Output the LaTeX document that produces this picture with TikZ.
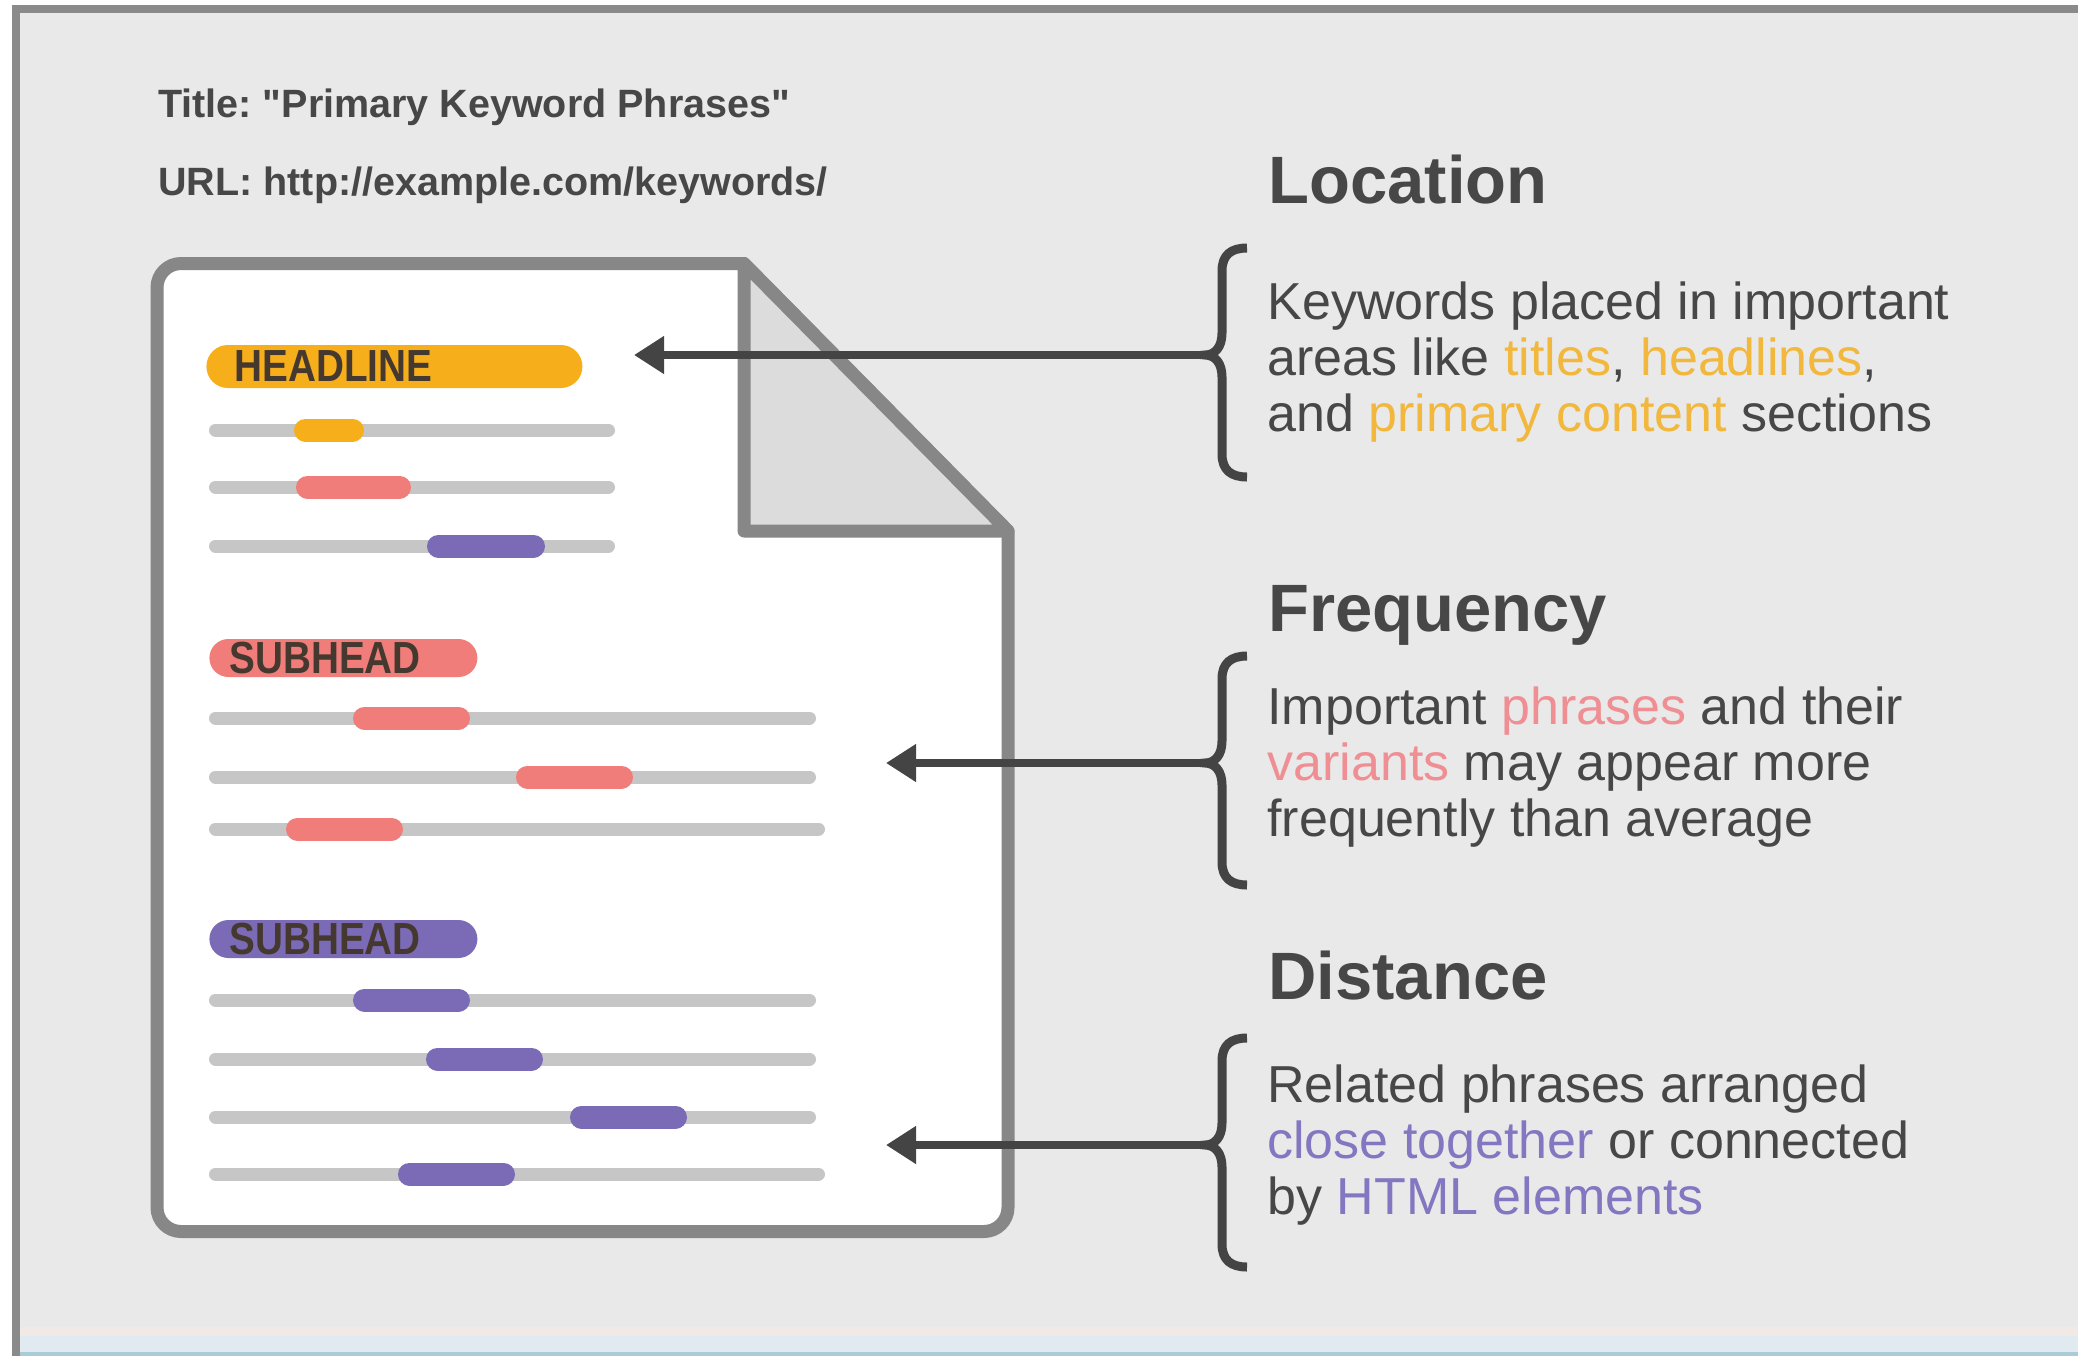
\documentclass[tikz,border=0pt]{standalone}
\usepackage{fontspec}
\setmainfont{Liberation Sans}
\newfontfamily\pillfont[FakeStretch=0.86]{Liberation Sans}
\usetikzlibrary{arrows.meta}
\frenchspacing

\definecolor{pagegray}{HTML}{E9E9E9}
\definecolor{framegray}{HTML}{8A8A8A}
\definecolor{docgray}{HTML}{878787}
\definecolor{foldgray}{HTML}{DCDCDC}
\definecolor{bargray}{HTML}{C6C6C6}
\definecolor{inkgray}{HTML}{474747}
\definecolor{pointergray}{HTML}{444444}
\definecolor{headorange}{HTML}{F6AE1A}
\definecolor{subred}{HTML}{F07D7A}
\definecolor{subviolet}{HTML}{7B6BB6}
\definecolor{wordgold}{HTML}{F2B83E}
\definecolor{wordpink}{HTML}{EF8E93}
\definecolor{wordviolet}{HTML}{8277C0}
\definecolor{pillink}{HTML}{45392F}
\definecolor{stripwarm}{HTML}{F1E9E5}
\definecolor{stripcool}{HTML}{E1EAF1}
\definecolor{stripedge}{HTML}{A9CCD6}

\tikzset{
  docline/.style={draw=docgray, fill=white, line width=6.5pt, line join=round},
  textbar/.style={bargray, line width=6.5pt, line cap=round},
  markbar/.style={line width=11.5pt, line cap=round},
  pill/.style={anchor=west, inner xsep=#1, inner ysep=0pt, align=left, text=pillink,
    font=\pillfont\bfseries\fontsize{22.5}{22.5}\selectfont},
  metatext/.style={anchor=base west, inner sep=0pt, text=inkgray,
    font=\bfseries\fontsize{19.75}{24}\selectfont},
  headtext/.style={anchor=base west, inner sep=0pt, text=inkgray,
    font=\bfseries\fontsize{33.5}{36}\selectfont},
  bodytext/.style={anchor=north west, inner sep=0pt, align=left, text=inkgray,
    font=\fontsize{26}{28}\selectfont},
  brace/.style={pointergray, line width=4.5pt},
  pointer/.style={pointergray, line width=3.75pt, -{Triangle[length=15pt,width=18pt]}}
}

\begin{document}
\begin{tikzpicture}[x=0.5pt, y=-0.5pt]
  \useasboundingbox (0,0) rectangle (2078,1356);
  % frame
  \fill[white] (0,0) rectangle (2078,1356);
  \fill[pagegray] (20,13) rectangle (2078,1327);
  \fill[framegray] (12,5) rectangle (2078,13);
  \fill[framegray] (12,5) rectangle (20,1356);
  \fill[stripwarm] (20,1327) rectangle (2078,1336);
  \fill[stripcool] (20,1336) rectangle (2078,1352);
  \fill[stripedge] (20,1352) rectangle (2078,1356);

  % page meta
  \node[metatext] (pagetitle) at (158,117)
    {Title: \textquotedbl Primary Keyword Phrases\textquotedbl};
  \node[metatext] (pageurl) at (158,195) {URL: http://example.com/keywords/};

  % document
  \filldraw[docline] (181,263.5) -- (744,263.5) -- (1008,531) -- (1008,1207.5)
    .. controls (1008,1220.75) and (997.25,1231.5) .. (984,1231.5) -- (181,1231.5)
    .. controls (167.75,1231.5) and (157,1220.75) .. (157,1207.5) -- (157,287.5)
    .. controls (157,274.25) and (167.75,263.5) .. (181,263.5) -- cycle;
  \filldraw[docline, fill=foldgray] (744,263.5) -- (744,531) -- (1008,531) -- cycle;

  % headline block
  \node[pill=14pt, fill=headorange, text width=160pt, minimum height=21.5pt,
    rounded corners=10.75pt] (headline) at (206,366.5) {HEADLINE};
  \foreach \y in {430,487,546}
    \draw[textbar] (215.5,\y) -- (608.5,\y);
  \foreach \y/\xa/\xb/\c in {430/305.5/352.5/headorange, 487/307.5/399.5/subred,
      546/438.5/533.5/subviolet}
    \draw[markbar, \c] (\xa,\y) -- (\xb,\y);

  % red subhead block
  \node[pill=10pt, fill=subred, text width=114pt, minimum height=19pt,
    rounded corners=9.5pt] (subheadA) at (209,658) {SUBHEAD};
  \foreach \y/\xb in {718/809.5, 777/809.5, 829/818.5}
    \draw[textbar] (215.5,\y) -- (\xb,\y);
  \foreach \y/\xa/\xb in {718/364.5/458.5, 777/527.5/621.5, 829/297.5/391.5}
    \draw[markbar, subred] (\xa,\y) -- (\xb,\y);

  % violet subhead block
  \node[pill=10pt, fill=subviolet, text width=114pt, minimum height=19pt,
    rounded corners=9.5pt] (subheadB) at (209,939) {SUBHEAD};
  \foreach \y/\xb in {1000/809.5, 1059/809.5, 1117/809.5, 1174/818.5}
    \draw[textbar] (215.5,\y) -- (\xb,\y);
  \foreach \y/\xa/\xb in {1000/364.5/458.5, 1059/437.5/531.5, 1117/581.5/675.5,
      1174/409.5/503.5}
    \draw[markbar, subviolet] (\xa,\y) -- (\xb,\y);

  % notes on the right
  \node[headtext] (location) at (1268,203) {Location};
  \node[bodytext] (locnote) at (1267,281) {Keywords placed in important\\
    areas like \textcolor{wordgold}{titles}, \textcolor{wordgold}{headlines},\\
    and \textcolor{wordgold}{primary content} sections};
  \node[headtext] (frequency) at (1268,631) {Frequency};
  \node[bodytext] (freqnote) at (1267,686) {Important \textcolor{wordpink}{phrases} and their\\
    \textcolor{wordpink}{variants} may appear more\\
    frequently than average};
  \node[headtext] (distance) at (1268,999) {Distance};
  \node[bodytext] (distnote) at (1267,1064) {Related phrases arranged\\
    \textcolor{wordviolet}{close together} or connected\\
    by \textcolor{wordviolet}{HTML elements}};

  % braces and pointers
  \foreach \ty/\nm/\ex in {355/loc/634, 763/freq/886, 1145/dist/886} {
    \draw[brace] (1247,\ty-107) .. controls (1231,\ty-107) and (1222,\ty-100) .. (1222,\ty-84)
      -- (1222,\ty-22) .. controls (1222,\ty-8) and (1215,\ty) .. (1205,\ty)
      .. controls (1215,\ty) and (1222,\ty+8) .. (1222,\ty+22)
      -- (1222,\ty+99) .. controls (1222,\ty+115) and (1231,\ty+122) .. (1247,\ty+122);
    \coordinate (\nm tip) at (1205,\ty);
    \coordinate (\nm point) at (\ex,\ty);
    \draw[pointer] (\nm tip) -- (\nm point);
  }
\end{tikzpicture}
\end{document}
